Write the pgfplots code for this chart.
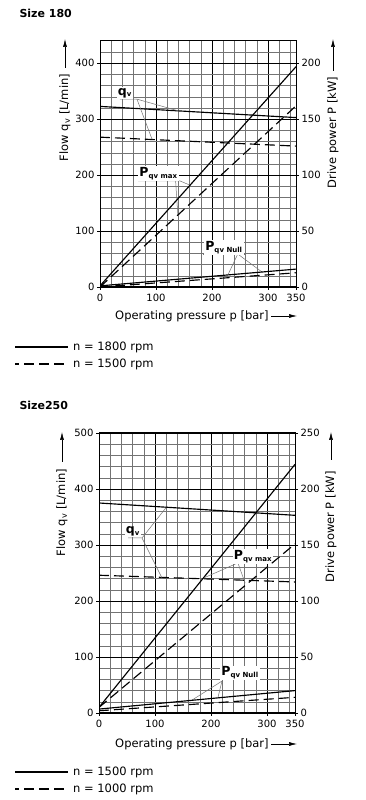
\documentclass[border=0pt]{standalone}
\usepackage{pgfplots}
\pgfplotsset{compat=1.18}
\usepackage{fontspec}
\setmainfont{DejaVu Sans}
\usetikzlibrary{arrows.meta}

\tikzset{
  solid line/.style={black, line width=1.15pt},
  dashed line/.style={black, line width=1.15pt, dash pattern=on 10pt off 5pt},
  leader/.style={black!55, line width=0.5pt},
}
\pgfplotsset{
  baseax/.style={
    scale only axis, width=196pt,
    xmin=0, xmax=350,
    /pgf/number format/assume math mode=true,
    ticklabel style={font=\fontsize{10}{12}\selectfont},
    tick align=outside, major tick length=3pt, minor tick length=0pt,
    tick style={black, line width=0.6pt},
    axis line style={black, line width=1pt},
  },
  leftax/.style={
    baseax,
    xtick={0,100,200,300,350},
    minor xtick={20,40,...,340},
    xtick pos=bottom, ytick pos=left,
    grid=both,
    major grid style={black, line width=0.9pt},
    minor grid style={black!55, line width=0.45pt},
    xticklabel style={yshift=-1pt},
    yticklabel style={xshift=1pt},
  },
  rightax/.style={
    baseax,
    axis x line=none, axis y line*=right,
    ytick pos=right,
    yticklabel style={xshift=-1pt},
  },
}
\newcommand{\lblfont}{\fontsize{11.5}{13}\selectfont}
\newcommand{\qv}{\fontsize{12.5}{13}\selectfont\bfseries q\textsubscript{\fontsize{7}{8}\selectfont v}}
\newcommand{\Pq}[1]{\fontsize{12.5}{13}\selectfont\bfseries P\textsubscript{\fontsize{7}{8}\selectfont #1}}

\begin{document}
\begin{tikzpicture}
\useasboundingbox (0,0) rectangle (366pt,800pt);

% ---------------- Size 180 ----------------
\begin{axis}[leftax, height=246pt, at={(100pt,513pt)}, anchor=south west,
  ymin=0, ymax=440, ytick={0,100,...,400}, minor ytick={20,40,...,420}]
  \addplot[solid line] coordinates {(0,323) (350,303)};
  \addplot[dashed line] coordinates {(0,268) (350,252)};
  % qv label
  \draw[leader] (35.7,336) -- (66,336) -- (140,315);
  \draw[leader] (66,336) -- (93,264);
  \node[fill=white, inner sep=1pt] at (44.6,347) {\qv};
  % Pqv max label
  \draw[leader] (68,189.6) -- (143,189.6) -- (161,182);
  \draw[leader] (135,189.6) -- (139,129);
  \node[fill=white, inner sep=1pt] at (104.5,203) {\Pq{qv max}};
  % Pqv Null label
  \draw[leader] (184,59) -- (259,59);
  \draw[leader] (246,59) -- (228.6,22);
  \draw[leader] (246,59) -- (289,27);
  \node[fill=white, inner sep=1pt] at (221.4,70.5) {\Pq{qv Null}};
\end{axis}
\begin{axis}[rightax, height=246pt, at={(100pt,513pt)}, anchor=south west,
  ymin=0, ymax=220, ytick={0,50,...,200}]
  \addplot[solid line] coordinates {(0,1) (350,197)};
  \addplot[dashed line] coordinates {(0,0) (350,162)};
  \addplot[solid line] coordinates {(0,1) (350,16)};
  \addplot[dashed line] coordinates {(0,0) (350,12.7)};
\end{axis}

\node[anchor=base west, font=\fontsize{11}{13}\selectfont\bfseries] at (16pt,782.5pt) {Size 180};
\node[rotate=90, font=\lblfont] at (65pt,682.5pt) {Flow q\textsubscript{v} [L/min]};
\draw[line width=0.6pt, -{Latex[length=8pt,width=4pt]}] (65pt,732pt) -- (65pt,761pt);
\node[rotate=90, font=\lblfont] at (333pt,667.5pt) {Drive power P [kW]};
\draw[line width=0.6pt, -{Latex[length=8pt,width=4pt]}] (333pt,729pt) -- (333pt,761pt);
\node[anchor=west, font=\lblfont, inner sep=0pt] at (115pt,484pt) {Operating pressure p [bar]};
\draw[line width=0.6pt, -{Latex[length=8pt,width=4pt]}] (271pt,484pt) -- (297pt,484pt);
\draw[solid line] (15pt,453pt) -- (68pt,453pt);
\node[anchor=west, font=\lblfont, inner sep=0pt] at (73pt,453pt) {n = 1800 rpm};
\draw[dashed line, dash phase=6pt] (15pt,436pt) -- (68pt,436pt);
\node[anchor=west, font=\lblfont, inner sep=0pt] at (73pt,436pt) {n = 1500 rpm};

% ---------------- Size 250 ----------------
\begin{axis}[leftax, height=280pt, at={(99pt,87pt)}, anchor=south west,
  ymin=0, ymax=500, ytick={0,100,...,500}, minor ytick={20,40,...,480}]
  \addplot[solid line] coordinates {(0,375) (350,353)};
  \addplot[dashed line] coordinates {(0,246) (350,234)};
  % qv label
  \draw[leader] (51.8,312.5) -- (76.8,312.5) -- (120,367);
  \draw[leader] (76.8,312.5) -- (112,242);
  \node[fill=white, inner sep=1pt] at (60.7,324) {\qv};
  % Pqv max label
  \draw[leader] (239,268) -- (307,268);
  \draw[leader] (248,268) -- (189,242);
  \draw[leader] (248,268) -- (261,232);
  \node[fill=white, inner sep=1pt] at (275,279.5) {\Pq{qv max}};
  % Pqv Null label
  \draw[leader] (219.6,57) -- (166,23);
  \draw[leader] (219.6,57) -- (212.5,28);
  \node[fill=white, inner sep=1pt] at (252,71.5) {\Pq{qv Null}};
\end{axis}
\begin{axis}[rightax, height=280pt, at={(99pt,87pt)}, anchor=south west,
  ymin=0, ymax=250, ytick={0,50,...,250}]
  \addplot[solid line] coordinates {(0,5) (350,222)};
  \addplot[dashed line] coordinates {(0,5) (350,151)};
  \addplot[solid line] coordinates {(0,3.5) (350,20)};
  \addplot[dashed line] coordinates {(0,2) (350,14)};
\end{axis}

\node[anchor=base west, font=\fontsize{11}{13}\selectfont\bfseries] at (16pt,390pt) {Size250};
\node[rotate=90, font=\lblfont] at (62pt,287.5pt) {Flow q\textsubscript{v} [L/min]};
\draw[line width=0.6pt, -{Latex[length=8pt,width=4pt]}] (62pt,338pt) -- (62pt,368pt);
\node[rotate=90, font=\lblfont] at (331pt,273pt) {Drive power P [kW]};
\draw[line width=0.6pt, -{Latex[length=8pt,width=4pt]}] (331pt,340pt) -- (331pt,368pt);
\node[anchor=west, font=\lblfont, inner sep=0pt] at (115pt,56pt) {Operating pressure p [bar]};
\draw[line width=0.6pt, -{Latex[length=8pt,width=4pt]}] (271pt,56pt) -- (297pt,56pt);
\draw[solid line] (15pt,28pt) -- (68pt,28pt);
\node[anchor=west, font=\lblfont, inner sep=0pt] at (73pt,28pt) {n = 1500 rpm};
\draw[dashed line, dash phase=6pt] (15pt,11pt) -- (68pt,11pt);
\node[anchor=west, font=\lblfont, inner sep=0pt] at (73pt,11pt) {n = 1000 rpm};
\end{tikzpicture}
\end{document}
